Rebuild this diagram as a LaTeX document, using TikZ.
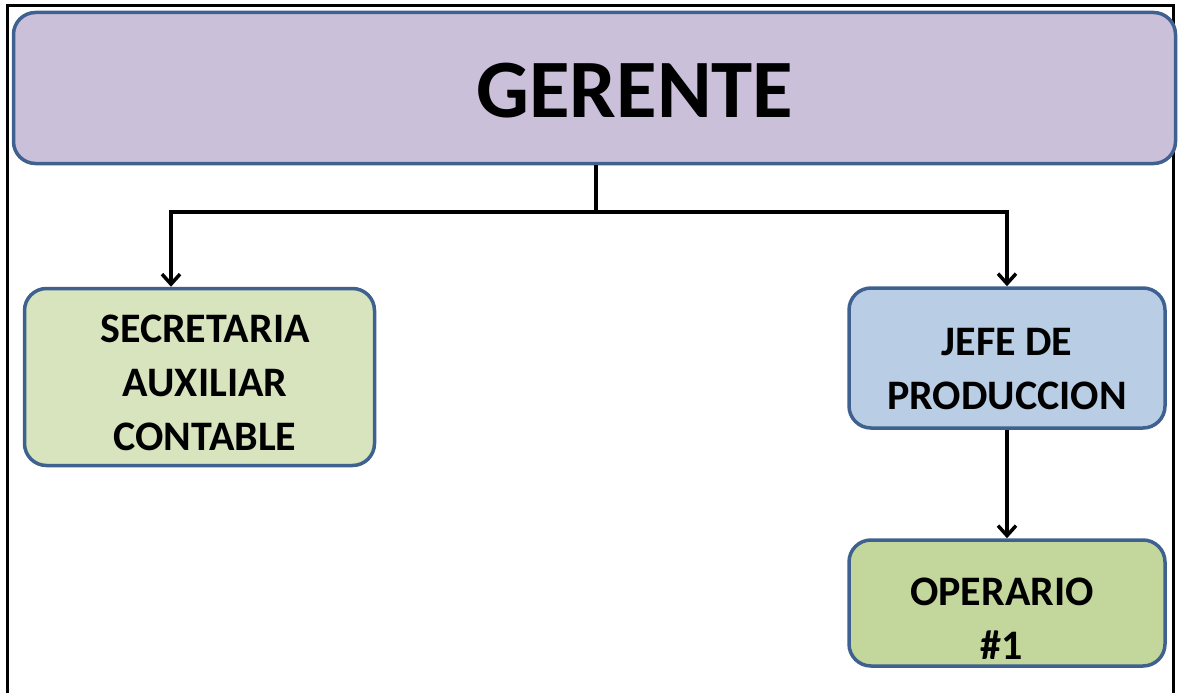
\documentclass[tikz,border=0pt]{standalone}
\usepackage{fontspec}
\setmainfont{Carlito}
\usetikzlibrary{arrows.meta}
\definecolor{bordc}{HTML}{3F6190}
\definecolor{gerc}{HTML}{CBC0DA}
\definecolor{secc}{HTML}{D7E4BD}
\definecolor{jefc}{HTML}{B9CDE5}
\definecolor{opc}{HTML}{C3D69B}
\tikzset{
  box/.style={draw=bordc, line width=3.5pt, rounded corners=22pt, inner sep=0pt},
  txt/.style={align=center, inner sep=0pt, font=\bfseries\fontsize{42}{54}\selectfont},
  conn/.style={line width=3.5pt, -{Straight Barb[length=10pt,width=18pt,line width=3.5pt]}},
  plain/.style={line width=3.5pt}
}
\begin{document}
\begin{tikzpicture}[x=1pt,y=-1pt]
\useasboundingbox (0,0) rectangle (1178,693);
\draw[line width=3pt] (7.5,693) -- (7.5,6) -- (1173,6) -- (1173,693);
\node[box, fill=gerc, minimum width=1162pt, minimum height=151pt] (ger) at (594.5,88) {};
\node[box, fill=secc, minimum width=350pt, minimum height=177pt] (sec) at (199.5,377) {};
\node[box, fill=jefc, minimum width=316pt, minimum height=140pt] (jef) at (1007,358) {};
\node[box, fill=opc, minimum width=316pt, minimum height=126pt] (op) at (1007,603) {};
\node[txt, font=\bfseries\fontsize{83}{90}\selectfont] (gert) at (635,91) {GERENTE};
\node[txt] (sect) at (205,383) {SECRETARIA\\AUXILIAR\\CONTABLE};
\node[txt] (jeft) at (1007,369.5) {JEFE DE\\PRODUCCION};
\node[txt] (opt) at (1002,618.5) {OPERARIO\\\#1};
\coordinate (mid) at (596,212);
\draw[plain] (ger.south -| mid) -- (mid);
\draw[conn] (mid) -| (sec.north -| 171,0);
\draw[conn] (mid) -| (jef.north);
\draw[conn] (jef.south) -- (op.north);
\end{tikzpicture}
\end{document}
